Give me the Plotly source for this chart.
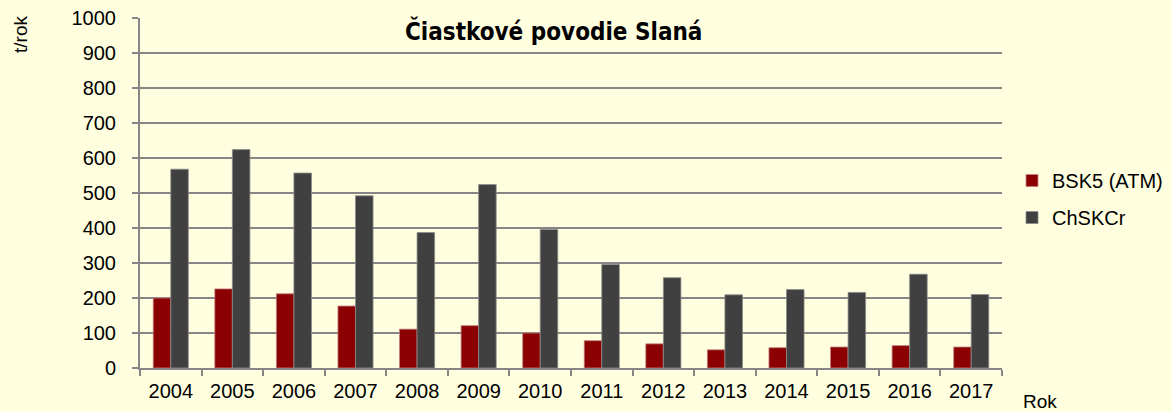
import plotly.graph_objects as go

years = ["2004", "2005", "2006", "2007", "2008", "2009", "2010",
         "2011", "2012", "2013", "2014", "2015", "2016", "2017"]
bsk5 = [200, 226, 212, 177, 111, 121, 100, 78, 69, 52, 58, 60, 64, 60]
chskcr = [568, 624, 557, 492, 387, 524, 396, 296, 258, 209, 224, 216, 268, 210]

series_names = ["BSK5 (ATM)", "ChSKCr"]
title_text = "Čiastkové povodie Slaná"
y_label = "t/rok"
x_label = "Rok"
y_ticks = [0, 100, 200, 300, 400, 500, 600, 700, 800, 900, 1000]

BG = "#FFFFE0"
GRID = "#868686"
FONT = "Liberation Sans, Arial, sans-serif"

fig = go.Figure()
fig.add_trace(go.Bar(x=years, y=bsk5, name=series_names[0], legendgroup="a",
                     marker=dict(color="#8B0000", line=dict(color="#C08080", width=0.8))))
fig.add_trace(go.Bar(x=years, y=chskcr, name=series_names[1], legendgroup="b",
                     marker=dict(color="#404040", line=dict(color="#8A8A8A", width=0.8))))

W, H = 1172, 412
L, R, T, B = 140, 170, 18, 44
PW, PH = W - L - R, H - T - B


def px_x(x):
    return (x - L) / PW


def px_y(y):
    return (H - B - y) / PH


fig.update_layout(
    width=W, height=H,
    margin=dict(l=L, r=R, t=T, b=B, pad=0, autoexpand=False),
    paper_bgcolor=BG, plot_bgcolor=BG,
    barmode="group", bargap=0.43, bargroupgap=0,
    font=dict(family=FONT, size=20, color="#000000"),
    showlegend=True,
    legend=dict(x=px_x(1012), y=px_y(199), xanchor="left", yanchor="middle",
                bgcolor="rgba(0,0,0,0)", font=dict(size=20, family=FONT),
                tracegroupgap=8, itemwidth=30),
    xaxis=dict(
        type="category", showline=True, linecolor=GRID, linewidth=2,
        ticks="outside", tickson="boundaries", ticklen=6, tickcolor=GRID, tickwidth=2,
        showgrid=False, tickfont=dict(size=20, family=FONT), ticklabelstandoff=4,
    ),
    yaxis=dict(
        range=[0, 1000], tickvals=y_ticks, showline=True, linecolor=GRID, linewidth=2,
        ticks="outside", ticklen=6, tickcolor=GRID, tickwidth=2,
        showgrid=True, gridcolor=GRID, gridwidth=2, zeroline=False,
        tickfont=dict(size=20, family=FONT), ticklabelstandoff=12,
    ),
    annotations=[
        dict(text=title_text, xref="paper", yref="paper",
             x=px_x(553), y=px_y(31),
             xanchor="center", yanchor="middle", showarrow=False,
             font=dict(family="DejaVu Sans Condensed, sans-serif",
                       size=24, weight="bold", color="#000000")),
        dict(text=y_label, xref="paper", yref="paper",
             x=px_x(20), y=px_y(35),
             xanchor="center", yanchor="middle", showarrow=False, textangle=-90,
             font=dict(size=19, family=FONT)),
        dict(text=x_label, xref="paper", yref="paper",
             x=px_x(1040), y=px_y(401),
             xanchor="center", yanchor="middle", showarrow=False,
             font=dict(size=19, family=FONT)),
    ],
)

fig.write_html(
    "out.html",
    config={"displayModeBar": False},
    post_script="document.body.style.margin='0';document.body.style.overflow='hidden';",
)
